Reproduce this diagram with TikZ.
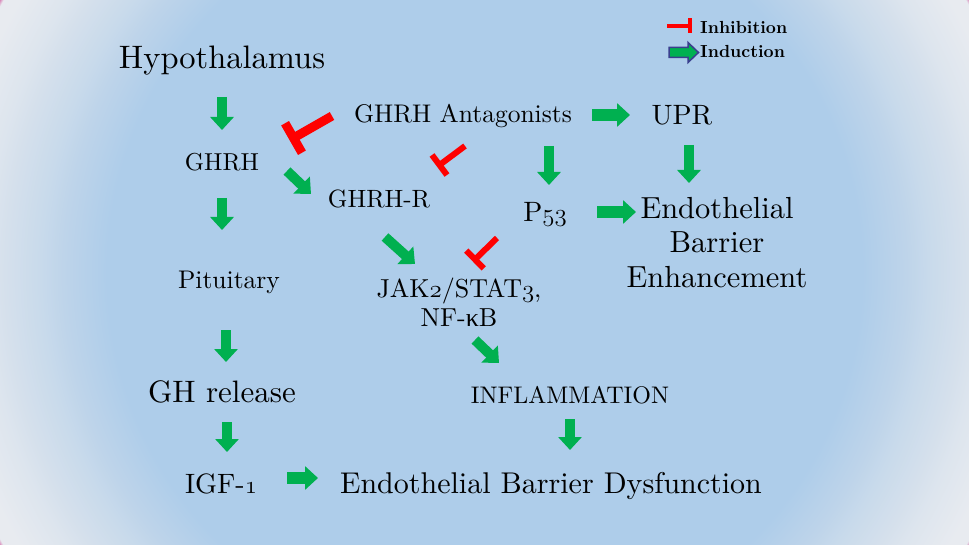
\documentclass[tikz,border=0pt]{standalone}
\usepackage{fontspec}
\setmainfont{lmroman10-regular.otf}[BoldFont=lmroman10-bold.otf]
\usetikzlibrary{arrows.meta,calc}
\newfontfamily\grk{Liberation Serif}
\makeatletter
\newcommand\osn[1]{{\fontsize{\fpeval{1.18*\f@size}}{0}\usefont{OML}{lmm}{m}{it}#1}}
\makeatother
\newcommand\myfs[1]{\fontsize{#1}{#1}\selectfont}
\definecolor{grn}{HTML}{00B050}
\definecolor{inhred}{HTML}{FF0000}
\definecolor{navyline}{HTML}{3A3F8E}
\definecolor{bgA}{HTML}{AECDEA}
\definecolor{bgB}{HTML}{BED4EA}
\definecolor{bgC}{HTML}{C8DAEB}
\definecolor{bgD}{HTML}{D5E0EC}
\definecolor{bgE}{HTML}{DDE5EE}
\definecolor{bgF}{HTML}{E8EBF0}
\definecolor{bgP}{HTML}{C8147A}
\pgfdeclareradialshading{bgshade}{\pgfpoint{0bp}{0bp}}{%
color(0bp)=(bgA); color(17bp)=(bgA); color(19bp)=(bgB); color(20bp)=(bgC);
color(21.6bp)=(bgD); color(22.5bp)=(bgE); color(24.3bp)=(bgF); color(24.9bp)=(bgF);
color(25.2bp)=(bgP); color(50bp)=(bgP)}
\tikzset{
  t/.style={inner sep=0pt, text=black},
  garrow/.style={draw=grn, line width=10pt, -{Triangle[width=23pt,length=13pt]}},
  harrow/.style={garrow, line width=12pt},
  inh/.style={draw=inhred, line width=#1},
}
\begin{document}
\begin{tikzpicture}[x=1pt,y=-1pt]
\useasboundingbox (0,0) rectangle (969,545);
\begin{scope}
\clip (0,0) rectangle (969,545);
\shade[shading=bgshade] (-70.5,-282.5) rectangle (1039.5,827.5);
\end{scope}

% text nodes
\node[t, font=\myfs{32.5}] (hyp) at (222,61) {Hypothalamus};
\node[t, font=\myfs{24.5}] (ghrh) at (222,162) {GHRH};
\node[t, font=\myfs{25.5}] (ant) at (463,116) {GHRH Antagonists};
\node[t, font=\myfs{28}] (upr) at (682,115) {UPR};
\node[t, font=\myfs{25}] (ghrhr) at (379,199) {GHRH-R};
\node[t, font=\myfs{28}] (p53) at (545,214) {P\osn{53}};
\node[t, align=center, font=\fontsize{30.5}{34.5}\selectfont] (ebe) at (717,242.5) {Endothelial\\Barrier\\Enhancement};
\node[t, font=\myfs{25.5}] (pit) at (229,282) {Pituitary};
\node[t, align=center, font=\fontsize{26}{29}\selectfont] (jak) at (459,302) {JAK\osn{2}/STAT\osn{3},\\NF-{\grk κ}B};
\node[t, font=\myfs{31}] (gh) at (222,392) {GH release};
\node[t, font=\myfs{24}] (infl) at (570,395) {INFLAMMATION};
\node[t, font=\myfs{28}] (igf) at (221,484) {IGF-\osn{1}};
\node[t, font=\myfs{30}] (ebd) at (551,486) {Endothelial Barrier Dysfunction};
\node[t, anchor=west, font=\bfseries\myfs{17.5}] (linh) at (700,27) {Inhibition};
\node[t, anchor=west, font=\bfseries\myfs{17.5}] (lind) at (700,51) {Induction};

% green arrows (free-floating, named end points)
\coordinate (a1s) at (222,97);   \coordinate (a1e) at (222,130);
\coordinate (a2s) at (222,198);  \coordinate (a2e) at (222,230);
\coordinate (a3s) at (226,330);  \coordinate (a3e) at (226,362);
\coordinate (a4s) at (227,422);  \coordinate (a4e) at (227,452);
\coordinate (a5s) at (549,146);  \coordinate (a5e) at (549,185);
\coordinate (a6s) at (689,145);  \coordinate (a6e) at (689,183);
\coordinate (a7s) at (570,419);  \coordinate (a7e) at (570,450);
\coordinate (h1s) at (592,115);  \coordinate (h1e) at (630,115);
\coordinate (h2s) at (597,212);  \coordinate (h2e) at (636,212);
\coordinate (h3s) at (287,478);  \coordinate (h3e) at (318,478);
\coordinate (d1s) at (287,171);  \coordinate (d1e) at (311,194);
\coordinate (d2s) at (385,237);  \coordinate (d2e) at (415,264);
\coordinate (d3s) at (475,340);  \coordinate (d3e) at (499,363);
\foreach \n in {a1,a2,a3,a4,a5,a6,a7,d1,d2,d3}
  \draw[garrow] (\n s) -- (\n e);
\foreach \n in {h1,h2,h3}
  \draw[harrow] (\n s) -- (\n e);

% red inhibition bars
\coordinate (r1s) at (332,116);  \coordinate (r1b) at (293.5,138);
\coordinate (r2s) at (465,146);  \coordinate (r2b) at (439.5,165);
\coordinate (r3s) at (497,238);  \coordinate (r3b) at (475,259.5);
\draw[inh=9pt] (r1s) -- (r1b);
\draw[inh=9pt] ($(r1b)!17pt!90:(r1s)$) -- ($(r1b)!17pt!-90:(r1s)$);
\draw[inh=6pt] (r2s) -- (r2b);
\draw[inh=6pt] ($(r2b)!12.5pt!90:(r2s)$) -- ($(r2b)!12.5pt!-90:(r2s)$);
\draw[inh=6pt] (r3s) -- (r3b);
\draw[inh=6pt] ($(r3b)!12.5pt!90:(r3s)$) -- ($(r3b)!12.5pt!-90:(r3s)$);

% legend symbols
\coordinate (li1) at (667,26); \coordinate (li2) at (690,26);
\draw[inh=4pt] (li1) -- (li2);
\draw[inh=4pt] (690,18.5) -- (690,33.5);
\draw[fill=grn, draw=navyline, line width=1.5pt, line join=miter]
  (669,47.5) -- (688,47.5) -- (688,42.5) -- (698.5,52.5) -- (688,62.5) -- (688,57.5) -- (669,57.5) -- cycle;
\end{tikzpicture}
\end{document}
